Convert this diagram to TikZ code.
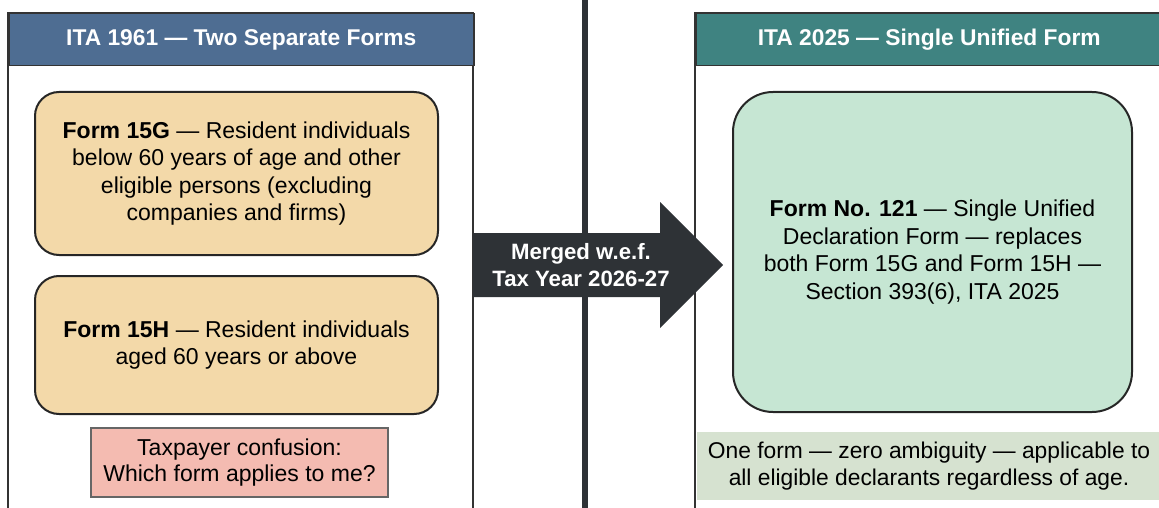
\documentclass[tikz,border=0pt]{standalone}
\usepackage{fontspec}
\setmainfont{Liberation Sans}
\usetikzlibrary{positioning}
\definecolor{oldhead}{HTML}{4E6D92}
\definecolor{newhead}{HTML}{3F8381}
\definecolor{tanfill}{HTML}{F3D9A9}
\definecolor{mintfill}{HTML}{C6E6D3}
\definecolor{pinkfill}{HTML}{F4BBB1}
\definecolor{notefill}{HTML}{D6E2D0}
\definecolor{arrowgrey}{HTML}{2E3236}
\tikzset{panel/.style={draw=black!80, line width=1.5pt}}
\tikzset{headbar/.style={panel, minimum height=52pt, text=white, font=\fontsize{22.8}{26}\selectfont\bfseries}}
\tikzset{formbox/.style={draw=black!85, line width=2pt, rounded corners=24pt, align=center, font=\fontsize{23}{27.5}\selectfont}}

\begin{document}
\begin{tikzpicture}[x=1pt, y=-1pt]
    \useasboundingbox (0,0) rectangle (1159,508);
    \clip (0,0) rectangle (1159,508);
    % left panel: the old act
    \draw[panel] (8,13) rectangle (473,515);
    \node[headbar, fill=oldhead, minimum width=465pt, anchor=north west] (hdold) at (8,13) {ITA 1961 — Two Separate Forms};
    \node[formbox, fill=tanfill, minimum width=403pt, minimum height=163pt] (f15g) at (236.5,173.5) {\textbf{Form 15G} — Resident individuals\\below 60 years of age and other\\eligible persons (excluding\\companies and firms)};
    \node[formbox, fill=tanfill, minimum width=403pt, minimum height=138pt, below=19pt of f15g] (f15h) {\textbf{Form 15H} — Resident individuals\\aged 60 years or above};
    \node[draw=black!60, line width=1.2pt, fill=pinkfill, minimum width=297pt, minimum height=69pt, align=center, font=\fontsize{23}{26.5}\selectfont] (confuse) at (239.5,462.5) {Taxpayer confusion:\\Which form applies to me?};
    % right panel: the new act
    \draw[panel] (695,13) rectangle (1162,515);
    \node[headbar, fill=newhead, minimum width=467pt, anchor=north west] (hdnew) at (695,13) {ITA 2025 — Single Unified Form};
    \node[formbox, fill=mintfill, rounded corners=40pt, minimum width=399pt, minimum height=320pt] (f121) at (932.5,252) {\textbf{Form No. 121} — Single Unified\\Declaration Form — replaces\\both Form 15G and Form 15H —\\Section 393(6), ITA 2025};
    \node[fill=notefill, minimum width=465pt, minimum height=68pt, align=center, font=\fontsize{22.8}{27}\selectfont] (note) at (929,466) {One form — zero ambiguity — applicable to\\all eligible declarants regardless of age.};
    % divider and merge arrow
    \draw[line width=6pt, arrowgrey] (584.5,-2) -- (584.5,512);
    \coordinate (tail) at (473,265);
    \coordinate (tip) at (723,265);
    \fill[arrowgrey] (tail) ++(0,-32) -- (660,233) -- (660,202) -- (tip) -- (660,328) -- (660,297) -- ([yshift=-32pt]tail) -- cycle;
    \node[text=white, align=center, font=\fontsize{22.2}{27}\selectfont\bfseries] (merge) at (581,265) {Merged w.e.f.\\Tax Year 2026-27};
\end{tikzpicture}
\end{document}
